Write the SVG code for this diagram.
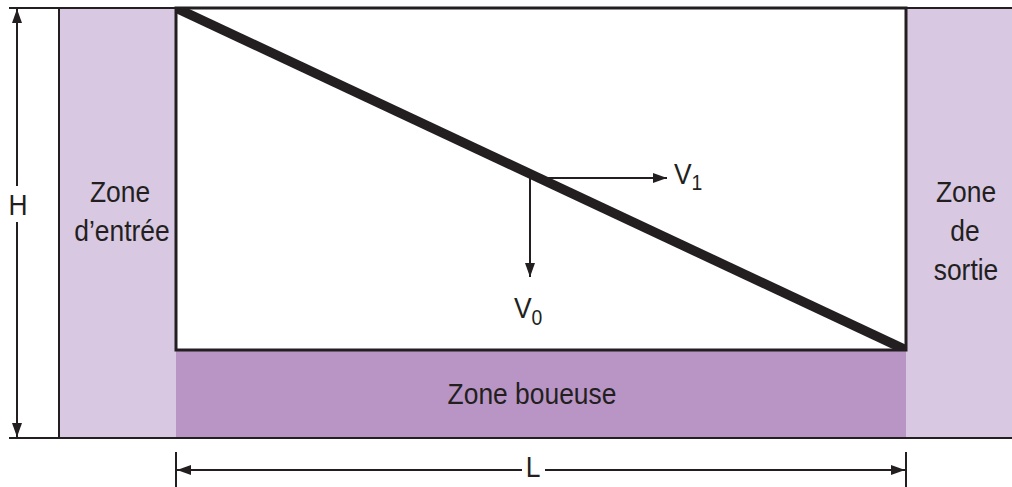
<svg xmlns="http://www.w3.org/2000/svg" width="1012" height="487" viewBox="0 0 1012 487">
<style>
.t{font-family:"Liberation Sans",Arial,sans-serif;font-size:30px;fill:#231f20;text-anchor:middle}
.l{text-anchor:start}
.s{font-size:22px}
.ln{stroke:#231f20;fill:none}
</style>
<defs>
<marker id="ah" viewBox="0 0 14 10" refX="14" refY="5" markerWidth="15" markerHeight="10" markerUnits="userSpaceOnUse" orient="auto-start-reverse"><path d="M0,0 L14,5 L0,10 z" fill="#231f20"/></marker>
<clipPath id="box"><rect x="176" y="8" width="730" height="342"/></clipPath>
</defs>
<rect width="1012" height="487" fill="#fff"/>
<g id="entree">
<rect x="59" y="8" width="117" height="430" fill="#d8c8e2"/>
<text class="t" transform="translate(120,202) scale(0.88,1)">Zone</text>
<text class="t" transform="translate(122,241) scale(0.88,1)">d’entrée</text>
</g>
<g id="sortie">
<rect x="906" y="8" width="106" height="430" fill="#d8c8e2"/>
<text class="t" transform="translate(966,202) scale(0.88,1)">Zone</text>
<text class="t" transform="translate(965,241) scale(0.88,1)">de</text>
<text class="t" transform="translate(966,280) scale(0.88,1)">sortie</text>
</g>
<g id="boue">
<rect x="176" y="350" width="730" height="88" fill="#b995c6"/>
<text class="t" transform="translate(532,404) scale(0.88,1)">Zone boueuse</text>
</g>
<g id="bassin">
<line x1="176" y1="8" x2="906" y2="350" stroke="#231f20" stroke-width="9.5" clip-path="url(#box)"/>
<rect x="176" y="8" width="730" height="342" class="ln" stroke-width="3"/>
</g>
<g id="lignes">
<line x1="9" y1="8" x2="1012" y2="8" class="ln" stroke-width="2"/>
<line x1="9" y1="438" x2="1012" y2="438" class="ln" stroke-width="2"/>
<line x1="59" y1="8" x2="59" y2="438" class="ln" stroke-width="2"/>
</g>
<g id="connecteurs">
<line x1="17" y1="9" x2="17" y2="186" class="ln" stroke-width="2" marker-start="url(#ah)"/>
<line x1="17" y1="222" x2="17" y2="437" class="ln" stroke-width="2" marker-end="url(#ah)"/>
<line x1="176" y1="452" x2="176" y2="487" class="ln" stroke-width="2"/>
<line x1="906" y1="452" x2="906" y2="487" class="ln" stroke-width="2"/>
<line x1="177" y1="470" x2="522" y2="470" class="ln" stroke-width="2" marker-start="url(#ah)"/>
<line x1="545" y1="470" x2="905" y2="470" class="ln" stroke-width="2" marker-end="url(#ah)"/>
<line x1="530" y1="178" x2="667" y2="178" class="ln" stroke-width="2" marker-end="url(#ah)"/>
<line x1="530" y1="178" x2="530" y2="277" class="ln" stroke-width="2" marker-end="url(#ah)"/>
</g>
<g id="labels">
<text class="t" transform="translate(18,215) scale(0.88,1)">H</text>
<text class="t" transform="translate(533,477) scale(0.88,1)">L</text>
<text class="t l" transform="translate(674,184) scale(0.88,1)">V<tspan class="s" dy="6">1</tspan></text>
<text class="t l" transform="translate(514,318) scale(0.88,1)">V<tspan class="s" dy="7">0</tspan></text>
</g>
</svg>
